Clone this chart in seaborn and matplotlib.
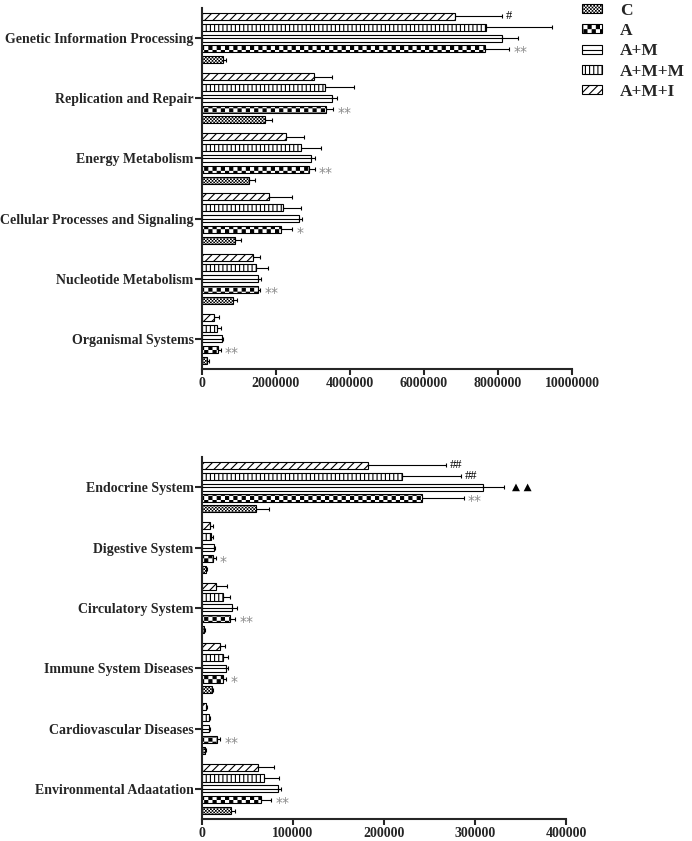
import warnings
warnings.filterwarnings('ignore')
import numpy as np
import pandas as pd
import matplotlib
matplotlib.use('Agg')
import matplotlib.pyplot as plt
import matplotlib.hatch as mhatch
from matplotlib.path import Path
from matplotlib.patches import Patch
from matplotlib.lines import Line2D
from matplotlib.legend_handler import HandlerTuple
import seaborn as sns

# ---------------- data ----------------
groups = ['C', 'A', 'A+M', 'A+M+M', 'A+M+I']

top_categories = ['Genetic Information Processing', 'Replication and Repair', 'Energy Metabolism',
                  'Cellular Processes and Signaling', 'Nucleotide Metabolism', 'Organismal Systems']
top_C = [570000, 1700000, 1280000, 900000, 850000, 140000]
top_A = [7650000, 3350000, 2900000, 2130000, 1520000, 420000]
top_AM = [8100000, 3500000, 2950000, 2620000, 1520000, 530000]
top_AMM = [7670000, 3320000, 2680000, 2180000, 1450000, 410000]
top_AMI = [6850000, 3020000, 2260000, 1800000, 1370000, 320000]
top_C_sd = [80000, 180000, 160000, 150000, 100000, 40000]
top_A_sd = [650000, 200000, 150000, 300000, 60000, 80000]
top_AM_sd = [450000, 160000, 100000, 90000, 70000, 30000]
top_AMM_sd = [1790000, 800000, 540000, 500000, 340000, 90000]
top_AMI_sd = [1250000, 500000, 500000, 620000, 200000, 150000]
top_A_marks = ['**', '**', '**', '*', '**', '**']
top_AMI_marks = ['#', '', '', '', '', '']
top_ticks = [0, 2000000, 4000000, 6000000, 8000000, 10000000]

bot_categories = ['Endocrine System', 'Digestive System', 'Circulatory System',
                  'Immune System Diseases', 'Cardiovascular Diseases', 'Environmental Adaatation']
bot_C = [59500, 4500, 1900, 11000, 3000, 32000]
bot_A = [241700, 12400, 30400, 23000, 17000, 65000]
bot_AM = [308600, 13200, 33400, 26800, 8000, 84000]
bot_AMM = [219500, 10000, 23000, 23000, 7500, 68000]
bot_AMI = [182000, 9300, 15800, 20200, 4000, 62000]
bot_C_sd = [14500, 1500, 1500, 1500, 1500, 4000]
bot_A_sd = [46000, 2500, 6300, 3500, 3000, 11000]
bot_AM_sd = [23000, 1000, 5000, 2000, 1000, 3000]
bot_AMM_sd = [65000, 2500, 7300, 5500, 1500, 17000]
bot_AMI_sd = [86000, 3000, 11700, 5500, 2000, 17000]
bot_A_marks = ['**', '*', '**', '*', '**', '**']
bot_AM_marks = ['\u25B2 \u25B2', '', '', '', '', '']
bot_AMM_marks = ['##', '', '', '', '', '']
bot_AMI_marks = ['##', '', '', '', '', '']
bot_ticks = [0, 100000, 200000, 300000, 400000]

# ---------------- style ----------------
sns.set_style('ticks')
HATCH_LW = 0.8
plt.rcParams['hatch.linewidth'] = HATCH_LW
plt.rcParams['font.family'] = ['Liberation Serif', 'DejaVu Sans']
plt.rcParams['font.weight'] = 'bold'
plt.rcParams['axes.linewidth'] = 1.5


class CheckerHatch(mhatch.HatchPatternBase):
    """Filled checkerboard hatch, selected with the character 'k'."""
    def __init__(self, hatch, density):
        c = hatch.count('k')
        self.n = int(c * density) // 2 * 2
        self.num_vertices = (self.n * self.n // 2) * 5 if self.n else 0

    def set_vertices_and_codes(self, vertices, codes):
        n = self.n
        s = 1.0 / n
        ins = HATCH_LW / 72.0 / 2.0
        idx = 0
        for i in range(n):
            for j in range(n):
                if (i + j) % 2 == 0:
                    x0, y0 = j * s + ins, i * s + ins
                    x1, y1 = (j + 1) * s - ins, (i + 1) * s - ins
                    vertices[idx:idx + 5] = [(x0, y0), (x1, y0), (x1, y1), (x0, y1), (x0, y0)]
                    codes[idx:idx + 5] = [Path.MOVETO, Path.LINETO, Path.LINETO,
                                          Path.LINETO, Path.CLOSEPOLY]
                    idx += 5


mhatch._hatch_types.append(CheckerHatch)

hatches = {'C': 'kkkkkkkkkk', 'A': 'kkkk', 'A+M': '', 'A+M+M': '||||', 'A+M+I': '////'}
hue_order = groups[::-1]


def draw(ax, cats, vals, sds, marks, ticks):
    rows = []
    for g in groups:
        for c, v in zip(cats, vals[g]):
            rows.append({'category': c, 'group': g, 'value': v})
    df = pd.DataFrame(rows)
    sns.barplot(data=df, x='value', y='category', hue='group', hue_order=hue_order,
                order=cats, orient='h', errorbar=None, width=0.9, gap=0.35,
                palette={g: 'white' for g in groups}, edgecolor='black',
                linewidth=0.8, legend=False, ax=ax)
    for cont, g in zip(ax.containers, hue_order):
        ys, xs = [], []
        for p in cont:
            p.set_hatch(hatches[g])
            ys.append(p.get_y() + p.get_height() / 2)
            xs.append(p.get_x() + p.get_width())
        ys = np.array(ys)
        xs = np.array(xs)
        if g == 'A+M':
            ax.hlines(ys, 0, xs, color='black', lw=0.8, zorder=3)
        sd = np.array(sds[g])
        ax.errorbar(xs, ys, xerr=[np.zeros_like(sd), sd], fmt='none', ecolor='black',
                    elinewidth=0.8, capsize=1.5, capthick=0.8, zorder=4)
        if g in marks:
            for x, y, e, m in zip(xs, ys, sd, marks[g]):
                if not m:
                    continue
                if '*' in m:
                    ax.annotate(m, xy=(x + e, y), xytext=(3, -2.5), textcoords='offset points',
                                ha='left', va='center', fontsize=10, color='#8a8a8a',
                                family=['DejaVu Sans'], fontweight='normal')
                elif '#' in m:
                    ax.annotate(m, xy=(x + e, y), xytext=(3, 0), textcoords='offset points',
                                ha='left', va='center', fontsize=9, color='black',
                                fontweight='normal')
                else:
                    ax.annotate(m, xy=(x + e, y), xytext=(6, 0), textcoords='offset points',
                                ha='left', va='center', fontsize=7.5, color='black',
                                family=['DejaVu Sans'])
    ax.set_ylim(len(cats) - 0.5, -0.5)
    ax.set_xlim(0, ticks[-1])
    ax.set_xticks(ticks)
    ax.set_xticklabels([str(t) for t in ticks])
    ax.set_xlabel('')
    ax.set_ylabel('')
    sns.despine(ax=ax)
    ax.spines['left'].set_linewidth(1.5)
    ax.spines['bottom'].set_linewidth(1.5)
    ax.tick_params(axis='y', length=5, width=1.5, pad=1, labelsize=10)
    ax.tick_params(axis='x', length=4, width=1.5, pad=1.5, labelsize=10)


fig = plt.figure(figsize=(6.92, 8.41), dpi=100)
W, H = 692.0, 841.0
ax1 = fig.add_axes([202 / W, 1 - 369 / H, (572 - 202) / W, (369 - 8) / H])
ax2 = fig.add_axes([202 / W, 1 - 819 / H, (566 - 202) / W, (819 - 457) / H])

top_vals = {'C': top_C, 'A': top_A, 'A+M': top_AM, 'A+M+M': top_AMM, 'A+M+I': top_AMI}
top_sds = {'C': top_C_sd, 'A': top_A_sd, 'A+M': top_AM_sd, 'A+M+M': top_AMM_sd, 'A+M+I': top_AMI_sd}
draw(ax1, top_categories, top_vals, top_sds, {'A': top_A_marks, 'A+M+I': top_AMI_marks}, top_ticks)

bot_vals = {'C': bot_C, 'A': bot_A, 'A+M': bot_AM, 'A+M+M': bot_AMM, 'A+M+I': bot_AMI}
bot_sds = {'C': bot_C_sd, 'A': bot_A_sd, 'A+M': bot_AM_sd, 'A+M+M': bot_AMM_sd, 'A+M+I': bot_AMI_sd}
draw(ax2, bot_categories, bot_vals, bot_sds,
     {'A': bot_A_marks, 'A+M': bot_AM_marks, 'A+M+M': bot_AMM_marks, 'A+M+I': bot_AMI_marks},
     bot_ticks)

# legend
handles = []
for g in groups:
    if g == 'A+M':
        handles.append((Patch(facecolor='white', edgecolor='black', lw=0.8),
                        Line2D([0], [0], color='black', lw=0.8)))
    else:
        handles.append(Patch(facecolor='white', edgecolor='black', lw=0.8, hatch=hatches[g]))
fig.legend(handles, groups, loc='upper left', bbox_to_anchor=(582 / W, 1 - 3 / H),
           frameon=False, prop={'family': 'Liberation Serif', 'weight': 'bold', 'size': 12.5},
           handlelength=1.15, handleheight=0.42, handletextpad=1.05, labelspacing=0.24,
           borderpad=0, borderaxespad=0, handler_map={tuple: HandlerTuple(ndivide=1)})

fig.savefig('out.png', dpi=100)
